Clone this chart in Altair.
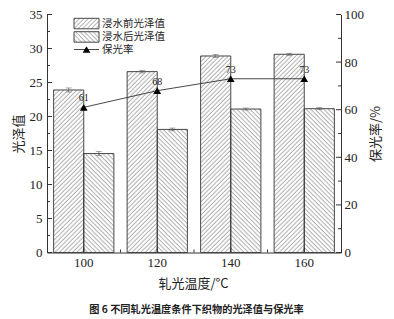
import base64
import altair as alt
import pandas as pd

# ---------------- data ----------------
temps = [100, 120, 140, 160]
gloss_before = [23.9, 26.6, 28.9, 29.15]
gloss_after = [14.55, 18.1, 21.1, 21.15]
err_before = [0.3, 0.2, 0.2, 0.15]
err_after = [0.3, 0.2, 0.15, 0.15]
retention = [61, 68, 73, 73]
retention_labels = ["61", "68", "73", "73"]

series_names = ["浸水前光泽值", "浸水后光泽值"]
line_name = "保光率"

left_major = [0, 5, 10, 15, 20, 25, 30, 35]
left_minor = [2.5, 7.5, 12.5, 17.5, 22.5, 27.5, 32.5]
right_major = [0, 20, 40, 60, 80, 100]
right_minor = [10, 30, 50, 70, 90]
bottom_minor = [110, 130, 150]

x_title = "轧光温度/°C"
y_title = "光泽值"
y2_title = "保光率/%"
caption = "图 6  不同轧光温度条件下织物的光泽值与保光率"

# ---------------- tables ----------------
bars = pd.concat([
    pd.DataFrame({"temp": temps, "series": series_names[0], "value": gloss_before, "err": err_before}),
    pd.DataFrame({"temp": temps, "series": series_names[1], "value": gloss_after, "err": err_after}),
], ignore_index=True)
line_df = pd.DataFrame({"temp": temps, "ret": retention, "label": retention_labels})
dummy = pd.DataFrame({"a": [0]})

W, H = 294, 238
CJK = "Noto Sans CJK SC"
SERIF = "Liberation Serif"
DARK = "#333333"


def hatch_url(angle):
    svg = ('<svg xmlns="http://www.w3.org/2000/svg" width="100%" height="100%">'
           '<defs><pattern id="h" width="3.1" height="10" patternUnits="userSpaceOnUse" '
           f'patternTransform="rotate({angle})">'
           '<line x1="1" y1="0" x2="1" y2="10" stroke="#8c8c8c" stroke-width="0.75"/>'
           '</pattern></defs><rect width="100%" height="100%" fill="url(#h)"/></svg>')
    return "data:image/svg+xml;base64," + base64.b64encode(svg.encode()).decode()


HATCH = {series_names[0]: hatch_url(45), series_names[1]: hatch_url(-45)}

# identical scales are given to every layer (scales are resolved independently)
band_scale = dict(domain=temps, paddingInner=0.18, paddingOuter=0.09)
offset_scale = dict(domain=series_names, paddingInner=0, paddingOuter=0)
left_scale = dict(domain=[0, 35], nice=False, zero=True)
right_scale = dict(domain=[0, 100], nice=False, zero=True)
quant_x_scale = dict(domain=[90, 170], nice=False, zero=False)


def xb(axis=None):
    return alt.X("temp:O", scale=alt.Scale(**band_scale), axis=axis)


def xo():
    return alt.XOffset("series:N", scale=alt.Scale(**offset_scale))


def yl(field, axis=None):
    return alt.Y(field, scale=alt.Scale(**left_scale), axis=axis)


def yr(field, axis=None):
    return alt.Y(field, scale=alt.Scale(**right_scale), axis=axis)


def xq(field):
    return alt.X(field, scale=alt.Scale(**quant_x_scale), axis=None)


x_axis = alt.Axis(orient="bottom", title=x_title, labelAngle=0, labelPadding=4, ticks=False, tickSize=0,
                  titleX=146, titleY=30.5, titleAlign="center", titleBaseline="middle")
y_axis = alt.Axis(orient="left", values=left_major, title=y_title, labelPadding=5, ticks=False, tickSize=0,
                  titleAngle=270, titleX=-29, titleY=119, titleAlign="center", titleBaseline="middle")
y2_axis = alt.Axis(orient="right", values=right_major, title=y2_title, labelPadding=3, ticks=False,
                   tickSize=0, titleAngle=270, titleX=34, titleY=119, titleAlign="center",
                   titleBaseline="middle")

base = alt.Chart(bars)
layers = []
layers.append(base.mark_bar(fill="white", strokeWidth=0).encode(
    x=xb(x_axis), xOffset=xo(), y=yl("value:Q", y_axis)))
for s in series_names:
    layers.append(base.transform_filter(alt.datum.series == s).mark_image(aspect=False).encode(
        x=xb(), xOffset=xo(), y=yl("value:Q"), y2=alt.datum(0), url=alt.value(HATCH[s])))
layers.append(base.mark_bar(fillOpacity=0, stroke=DARK, strokeWidth=0.9).encode(
    x=xb(), xOffset=xo(), y=yl("value:Q")))
err = base.transform_calculate(lo="datum.value - datum.err", hi="datum.value + datum.err")
layers.append(err.mark_rule(color="#555555", strokeWidth=0.7).encode(
    x=xb(), xOffset=xo(), y=yl("lo:Q"), y2="hi:Q"))
for f in ["hi:Q", "lo:Q"]:
    layers.append(err.mark_tick(color="#555555", thickness=0.7, size=6).encode(
        x=xb(), xOffset=xo(), y=yl(f)))

# inward axis ticks
layers.append(alt.Chart(pd.DataFrame({"v": left_major})).mark_rule(color=DARK, strokeWidth=1).encode(
    y=yl("v:Q"), x=alt.value(0), x2=alt.value(5)))
layers.append(alt.Chart(pd.DataFrame({"v": left_minor})).mark_rule(color=DARK, strokeWidth=1).encode(
    y=yl("v:Q"), x=alt.value(0), x2=alt.value(3)))
layers.append(alt.Chart(pd.DataFrame({"v": right_major})).mark_rule(color=DARK, strokeWidth=1).encode(
    y=yr("v:Q"), x=alt.value(W - 5), x2=alt.value(W)))
layers.append(alt.Chart(pd.DataFrame({"v": right_minor})).mark_rule(color=DARK, strokeWidth=1).encode(
    y=yr("v:Q"), x=alt.value(W - 3), x2=alt.value(W)))
layers.append(alt.Chart(pd.DataFrame({"t": temps})).mark_rule(color=DARK, strokeWidth=1).encode(
    x=xq("t:Q"), y=alt.value(H - 5), y2=alt.value(H)))
layers.append(alt.Chart(pd.DataFrame({"t": bottom_minor})).mark_rule(color=DARK, strokeWidth=1).encode(
    x=xq("t:Q"), y=alt.value(H - 3), y2=alt.value(H)))

# retention line
lbase = alt.Chart(line_df)
layers.append(lbase.mark_line(color=DARK, strokeWidth=0.9).encode(x=xq("temp:Q"), y=yr("ret:Q", y2_axis)))
layers.append(lbase.mark_point(shape="triangle-up", filled=True, size=60, color="black", opacity=1).encode(
    x=xq("temp:Q"), y=yr("ret:Q")))
layers.append(lbase.mark_text(dy=-9, font=SERIF, fontSize=10, color="#222222").encode(
    x=xq("temp:Q"), y=yr("ret:Q"), text="label:N"))

# legend (manual, pattern boxes)
d = alt.Chart(dummy)
for i, s in enumerate(series_names):
    y0 = 3.8 + i * 13.4
    box = dict(x=alt.value(27), x2=alt.value(52), y=alt.value(y0), y2=alt.value(y0 + 10.5))
    layers.append(d.mark_rect(fill="white").encode(**box))
    layers.append(d.mark_image(aspect=False).encode(url=alt.value(HATCH[s]), **box))
    layers.append(d.mark_rect(fillOpacity=0, stroke=DARK, strokeWidth=0.9).encode(**box))
    layers.append(d.mark_text(text=s, font=CJK, fontSize=10.5, align="left", baseline="middle",
                              color="#222222").encode(x=alt.value(55), y=alt.value(y0 + 5.2)))
layers.append(d.mark_rule(color=DARK, strokeWidth=0.9).encode(
    x=alt.value(27), x2=alt.value(52), y=alt.value(35)))
layers.append(d.mark_point(shape="triangle-up", filled=True, size=60, color="black", opacity=1).encode(
    x=alt.value(39.5), y=alt.value(35)))
layers.append(d.mark_text(text=line_name, font=CJK, fontSize=10.5, align="left", baseline="middle",
                          color="#222222").encode(x=alt.value(55), y=alt.value(35)))
layers.append(d.mark_text(text=caption, font=CJK, fontSize=10.2, fontWeight="bold", align="center",
                          baseline="middle", color="#222222").encode(x=alt.value(149.5), y=alt.value(295.5)))

chart = alt.layer(*layers).resolve_scale(
    x="independent", y="independent", xOffset="independent"
).properties(
    width=W, height=H,
    autosize=alt.AutoSizeParams(type="none"),
    padding={"left": 47, "top": 14.5, "right": 53, "bottom": 66.5},
    background="white",
).configure_view(stroke=None).configure_axis(
    domainColor=DARK, domainWidth=1, grid=False,
    labelFont=SERIF, labelFontSize=13, labelColor="#222222",
    titleFont=CJK, titleFontSize=13, titleFontWeight="normal", titleColor="#222222",
)

chart.save("out.html", embed_options={"renderer": "svg", "actions": False})
